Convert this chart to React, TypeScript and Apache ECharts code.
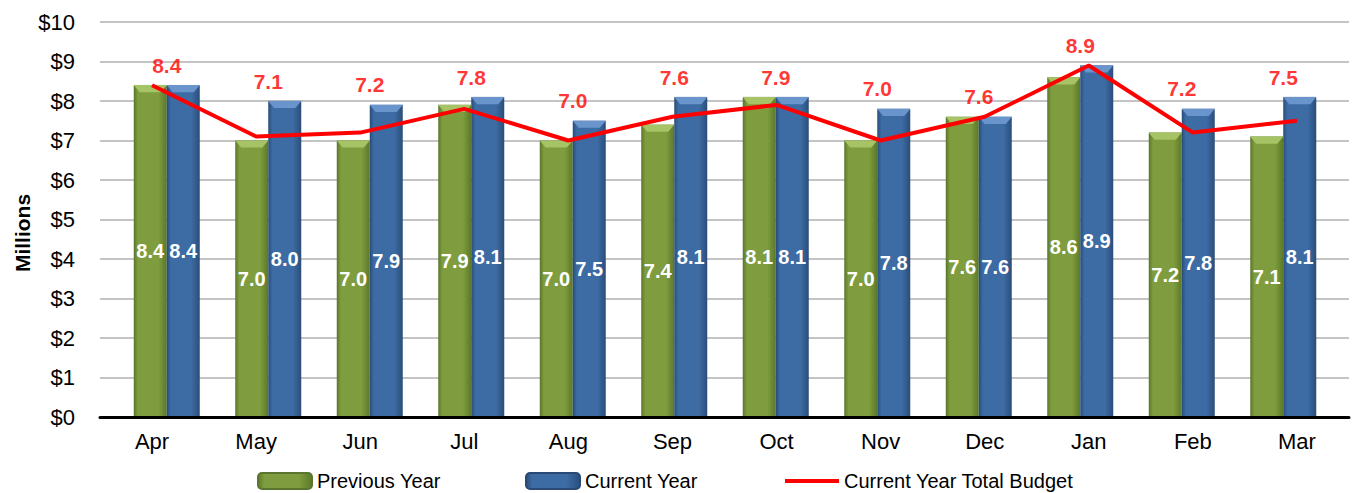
import React, { useEffect, useRef } from "react";
import * as echarts from "echarts";

const months = ["Apr", "May", "Jun", "Jul", "Aug", "Sep", "Oct", "Nov", "Dec", "Jan", "Feb", "Mar"];
const previousYear = [8.4, 7.0, 7.0, 7.9, 7.0, 7.4, 8.1, 7.0, 7.6, 8.6, 7.2, 7.1];
const currentYear = [8.4, 8.0, 7.9, 8.1, 7.5, 8.1, 8.1, 7.8, 7.6, 8.9, 7.8, 8.1];
const budget = [8.4, 7.1, 7.2, 7.8, 7.0, 7.6, 7.9, 7.0, 7.6, 8.9, 7.2, 7.5];
const yMin = 0;
const yMax = 10;
const yStep = 1;

const FONT = "Liberation Sans";

function barGradient(edge: string, mid: string) {
  return new echarts.graphic.LinearGradient(0, 0, 1, 0, [
    { offset: 0, color: edge },
    { offset: 0.12, color: mid },
    { offset: 0.75, color: mid },
    { offset: 1, color: edge },
  ]);
}

const bevelPath = "path://M0,0 L33,0 L27,7 L6,7 Z";

export default function App() {
  const ref = useRef<HTMLDivElement>(null);
  useEffect(() => {
    if (!ref.current) return;
    const chart = echarts.init(ref.current, null, { renderer: "svg" });
    const green = barGradient("#5c7a2a", "#7f9d3e");
    const blue = barGradient("#2b4f7d", "#3d6ba3");
    const legendText = { fontSize: 20, color: "#000000", fontFamily: FONT };
    const valueLabel = (p: any) => Number(p.value).toFixed(1);
    // budget labels sit above the taller of the two bars in each month
    const budgetLabelAnchors = months.map((_, i) => Math.max(previousYear[i], currentYear[i]));
    chart.setOption({
      animation: false,
      backgroundColor: "#ffffff",
      textStyle: { fontFamily: FONT },
      grid: [
        { left: 100, right: 3, top: 22, bottom: 76 },
        { left: 116, right: 18, top: 22, bottom: 76 },
      ],
      graphic: [
        {
          type: "text",
          x: 22,
          y: 233,
          rotation: Math.PI / 2,
          style: {
            text: "Millions",
            fontSize: 21,
            fontWeight: "bold",
            fontFamily: FONT,
            fill: "#000000",
            align: "center",
            verticalAlign: "middle",
          },
        },
      ],
      xAxis: [
        {
          type: "category",
          gridIndex: 0,
          data: months,
          axisLine: { show: true, lineStyle: { color: "#000000", width: 3 } },
          axisTick: { show: false },
          axisLabel: { fontSize: 22, color: "#000000", margin: 13, fontFamily: FONT },
          splitLine: { show: false },
          z: 10,
        },
        {
          type: "category",
          gridIndex: 1,
          data: months,
          axisLine: { show: false },
          axisTick: { show: false },
          axisLabel: { show: false },
        },
      ],
      yAxis: [
        {
          type: "value",
          gridIndex: 0,
          min: yMin,
          max: yMax,
          interval: yStep,
          axisLine: { show: false },
          axisTick: { show: false },
          axisLabel: {
            fontSize: 22,
            color: "#000000",
            margin: 25,
            fontFamily: FONT,
            formatter: (v: number) => "$" + v,
          },
          splitLine: { show: true, lineStyle: { color: "#c4c4c4", width: 2 } },
        },
        {
          type: "value",
          gridIndex: 1,
          min: yMin,
          max: yMax,
          interval: yStep,
          show: false,
          splitLine: { show: false },
        },
      ],
      legend: [
        {
          data: ["Previous Year"],
          left: 257,
          top: 471,
          padding: 0,
          itemWidth: 54,
          itemHeight: 16,
          textStyle: legendText,
        },
        {
          data: ["Current Year"],
          left: 525,
          top: 471,
          padding: 0,
          itemWidth: 54,
          itemHeight: 16,
          textStyle: legendText,
        },
        {
          data: [{ name: "Current Year Total Budget", icon: "rect" }],
          left: 785,
          top: 471,
          padding: 0,
          itemWidth: 54,
          itemHeight: 4,
          textStyle: legendText,
        },
      ],
      series: [
        {
          name: "Previous Year",
          type: "bar",
          xAxisIndex: 1,
          yAxisIndex: 1,
          data: previousYear,
          barWidth: 33,
          barGap: "0%",
          itemStyle: { color: green, borderColor: "#5a7530", borderWidth: 0.5 },
          label: {
            show: true,
            position: "inside",
            color: "#ffffff",
            fontSize: 20,
            fontWeight: "bold",
            fontFamily: FONT,
            formatter: valueLabel,
          },
        },
        {
          name: "Current Year",
          type: "bar",
          xAxisIndex: 1,
          yAxisIndex: 1,
          data: currentYear,
          barWidth: 33,
          barGap: "0%",
          itemStyle: { color: blue, borderColor: "#2a4a75", borderWidth: 0.5 },
          label: {
            show: true,
            position: "inside",
            color: "#ffffff",
            fontSize: 20,
            fontWeight: "bold",
            fontFamily: FONT,
            formatter: valueLabel,
          },
        },
        {
          name: "prevBevel",
          type: "pictorialBar",
          xAxisIndex: 1,
          yAxisIndex: 1,
          data: previousYear,
          symbol: bevelPath,
          symbolSize: [33, 7],
          symbolPosition: "end",
          symbolOffset: [-16.5, 0],
          symbolKeepAspect: false,
          itemStyle: { color: "#a6c465" },
          z: 3,
          silent: true,
        },
        {
          name: "currBevel",
          type: "pictorialBar",
          xAxisIndex: 1,
          yAxisIndex: 1,
          data: currentYear,
          symbol: bevelPath,
          symbolSize: [33, 7],
          symbolPosition: "end",
          symbolOffset: [16.5, 0],
          symbolKeepAspect: false,
          itemStyle: { color: "#6a95cc" },
          z: 3,
          silent: true,
        },
        {
          name: "Current Year Total Budget",
          type: "line",
          xAxisIndex: 0,
          yAxisIndex: 0,
          data: budget,
          symbol: "none",
          lineStyle: { color: "#ff0000", width: 4 },
          itemStyle: { color: "#ff0000" },
          z: 5,
        },
        {
          name: "budgetLabels",
          type: "scatter",
          xAxisIndex: 1,
          yAxisIndex: 1,
          data: budgetLabelAnchors,
          symbol: "circle",
          symbolSize: 1,
          itemStyle: { color: "rgba(0,0,0,0)" },
          z: 6,
          silent: true,
          label: {
            show: true,
            position: "top",
            distance: 9,
            color: "#ff0000",
            fontSize: 21,
            fontWeight: "bold",
            fontFamily: FONT,
            formatter: (p: any) => budget[p.dataIndex].toFixed(1),
          },
        },
      ],
    });
    return () => chart.dispose();
  }, []);
  return <div ref={ref} style={{ width: 1352, height: 493, position: "absolute", left: 0, top: 0 }} />;
}
